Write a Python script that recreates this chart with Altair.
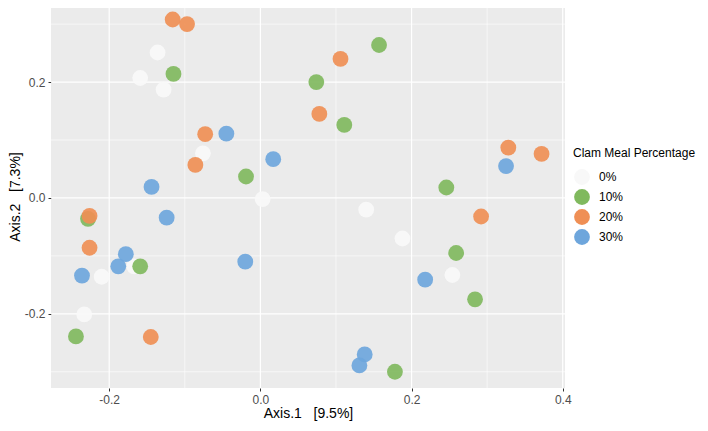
import altair as alt
import pandas as pd

groups = ["0%", "10%", "20%", "30%"]
colors = ["#F8F8F8", "#80B95E", "#EF8F55", "#6EA6DC"]

x_0 = [-0.136, -0.159, -0.128, -0.076, 0.003, -0.167, -0.210, -0.233, 0.140, 0.188, 0.254]
y_0 = [0.251, 0.207, 0.187, 0.077, -0.002, -0.118, -0.136, -0.201, -0.020, -0.070, -0.133]
x_10 = [-0.115, -0.019, 0.157, 0.074, 0.111, 0.246, -0.228, -0.159, -0.244, 0.259, 0.284, 0.178]
y_10 = [0.214, 0.037, 0.264, 0.200, 0.126, 0.018, -0.036, -0.118, -0.239, -0.095, -0.175, -0.300]
x_20 = [-0.116, -0.097, -0.073, -0.086, 0.106, 0.078, 0.328, 0.372, -0.226, -0.226, -0.145, 0.292]
y_20 = [0.308, 0.300, 0.110, 0.057, 0.240, 0.145, 0.087, 0.076, -0.031, -0.086, -0.240, -0.032]
x_30 = [-0.045, 0.017, -0.144, 0.325, -0.124, -0.178, -0.188, -0.020, -0.236, 0.218, 0.138, 0.131]
y_30 = [0.111, 0.067, 0.019, 0.055, -0.034, -0.097, -0.118, -0.110, -0.134, -0.141, -0.270, -0.289]

major_x = [-0.2, 0.0, 0.2, 0.4]
minor_x = [-0.1, 0.1, 0.3]
major_y = [-0.2, 0.0, 0.2]
minor_y = [-0.3, -0.1, 0.1, 0.3]

rows = []
for g, xs, ys in [("0%", x_0, y_0), ("10%", x_10, y_10), ("20%", x_20, y_20), ("30%", x_30, y_30)]:
    for a, b in zip(xs, ys):
        rows.append({"ax1": a, "ax2": b, "grp": g})
df = pd.DataFrame(rows)

xdom = [-0.277, 0.403]
ydom = [-0.328, 0.333]
xscale = alt.Scale(domain=xdom, nice=False, zero=False)
yscale = alt.Scale(domain=ydom, nice=False, zero=False)

FONT = "Liberation Sans"
LBL = "replace(format(datum.value, '.1f'), '\u2212', '-')"

xaxis = alt.Axis(values=major_x, labelExpr=LBL, grid=False, domain=False,
                 tickColor="#333333", tickSize=3, labelColor="#4D4D4D",
                 labelFontSize=12, titleFontSize=14, titleFontWeight="normal",
                 titleColor="black", labelPadding=3, titlePadding=1)
yaxis = alt.Axis(values=major_y, labelExpr=LBL, grid=False, domain=False,
                 tickColor="#333333", tickSize=3, labelColor="#4D4D4D",
                 labelFontSize=12, titleFontSize=14, titleFontWeight="normal",
                 titleColor="black", labelPadding=3, titlePadding=2)
XT = "Axis.1\u00a0\u00a0\u00a0[9.5%]"
YT = "Axis.2\u00a0\u00a0\u00a0[7.3%]"

pts = alt.Chart(df).mark_circle(size=250, opacity=0.92).encode(
    x=alt.X("ax1:Q", scale=xscale, title=XT, axis=xaxis),
    y=alt.Y("ax2:Q", scale=yscale, title=YT, axis=yaxis),
    color=alt.Color("grp:N", title="Clam Meal Percentage",
                    scale=alt.Scale(domain=groups, range=colors),
                    legend=alt.Legend(orient="none", legendX=522, legendY=143,
                                      symbolType="circle", symbolSize=250,
                                      symbolOpacity=1, titleFontSize=12,
                                      titleFontWeight="normal", labelFontSize=12,
                                      titleLimit=300,
                                      rowPadding=3, titlePadding=8, labelOffset=8)),
)

minx = alt.Chart(pd.DataFrame({"ax1": minor_x})).mark_rule(color="white", strokeWidth=0.6).encode(
    x=alt.X("ax1:Q", scale=xscale, title=XT, axis=xaxis))
miny = alt.Chart(pd.DataFrame({"ax2": minor_y})).mark_rule(color="white", strokeWidth=0.6).encode(
    y=alt.Y("ax2:Q", scale=yscale, title=YT, axis=yaxis))
majx = alt.Chart(pd.DataFrame({"ax1": major_x})).mark_rule(color="white", strokeWidth=1.2).encode(
    x=alt.X("ax1:Q", scale=xscale, title=XT, axis=xaxis))
majy = alt.Chart(pd.DataFrame({"ax2": major_y})).mark_rule(color="white", strokeWidth=1.2).encode(
    y=alt.Y("ax2:Q", scale=yscale, title=YT, axis=yaxis))

chart = alt.layer(minx, miny, majx, majy, pts).properties(
    width=514, height=383,
    autosize=alt.AutoSizeParams(type="none"),
    padding={"left": 43, "top": -3, "right": 135, "bottom": 43},
).configure(font=FONT).configure_view(fill="#EBEBEB", stroke=None)

chart.save("out.html", embed_options={"renderer": "svg", "actions": False})
